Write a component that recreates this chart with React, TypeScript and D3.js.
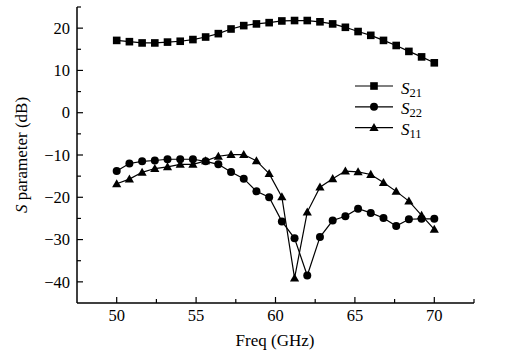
import React from "react";
import * as d3 from "d3";

const freqs: number[] = Array.from({ length: 26 }, (_, i) => +(50 + i * 0.8).toFixed(1));
const s21: number[] = [17.1, 16.8, 16.5, 16.5, 16.7, 16.9, 17.3, 17.9, 18.7, 19.8, 20.6, 21.0, 21.3, 21.7, 21.8, 21.8, 21.5, 21.0, 20.2, 19.2, 18.3, 17.1, 15.9, 14.5, 13.2, 11.8];
const s22: number[] = [-13.8, -12.0, -11.5, -11.3, -11.0, -11.0, -11.0, -11.5, -12.2, -14.0, -15.6, -18.6, -20.0, -25.7, -29.7, -38.5, -29.4, -25.5, -24.5, -22.7, -23.7, -24.9, -26.8, -25.2, -25.1, -25.1];
const s11: number[] = [-16.8, -15.7, -14.1, -13.2, -12.8, -12.2, -12.2, -11.4, -10.3, -9.9, -9.9, -11.4, -14.4, -19.9, -39.1, -23.5, -17.6, -15.6, -13.8, -14.0, -14.6, -16.5, -18.6, -20.9, -24.3, -27.6];
const xMajor: number[] = [50, 55, 60, 65, 70];
const xMinor: number[] = [52.5, 57.5, 62.5, 67.5, 72.5];
const yMajor: number[] = [-40, -30, -20, -10, 0, 10, 20];
const yMinor: number[] = [-35, -25, -15, -5, 5, 15, 25];
const legend = [
  { name: "21", key: "square" },
  { name: "22", key: "circle" },
  { name: "11", key: "triangle" },
];

const FONT = "'Liberation Serif', 'DejaVu Serif', serif";

function Marker({ type, x, y }: { type: string; x: number; y: number }) {
  if (type === "square") return <rect x={x - 3.8} y={y - 3.8} width={7.6} height={7.6} fill="#000" />;
  if (type === "circle") return <circle cx={x} cy={y} r={4} fill="#000" />;
  const s = 4.6;
  return <path d={`M${x},${y - s}L${x + s},${y + s * 0.75}L${x - s},${y + s * 0.75}Z`} fill="#000" />;
}

export default function App() {
  const x = d3.scaleLinear().domain([47.5, 72.5]).range([77, 474]);
  const y = d3.scaleLinear().domain([-45, 25]).range([303, 7]);
  const line = d3.line<number>().x((_, i) => x(freqs[i])).y((d) => y(d));
  const series = [
    { data: s21, type: "square" },
    { data: s22, type: "circle" },
    { data: s11, type: "triangle" },
  ];
  const fmt = (v: number) => (v < 0 ? "\u2212" + Math.abs(v) : String(v));
  return (
    <svg width={519} height={358} style={{ position: "absolute", left: 0, top: 0, background: "#fff" }} fontFamily={FONT}>
      {/* axes */}
      <line x1={x(47.5)} x2={x(72.5)} y1={y(-45)} y2={y(-45)} stroke="#000" strokeWidth={1.5} />
      <line x1={x(47.5)} x2={x(47.5)} y1={y(-45)} y2={y(25)} stroke="#000" strokeWidth={1.5} />
      {xMajor.map((v) => (
        <g key={"xm" + v}>
          <line x1={x(v)} x2={x(v)} y1={y(-45)} y2={y(-45) - 6} stroke="#000" strokeWidth={1.2} />
          <text x={x(v)} y={320.5} fontSize={16.5} textAnchor="middle">{v}</text>
        </g>
      ))}
      {xMinor.map((v) => (
        <line key={"xn" + v} x1={x(v)} x2={x(v)} y1={y(-45)} y2={y(-45) - 4} stroke="#000" strokeWidth={1.2} />
      ))}
      {yMajor.map((v) => (
        <g key={"ym" + v}>
          <line x1={x(47.5)} x2={x(47.5) + 6} y1={y(v)} y2={y(v)} stroke="#000" strokeWidth={1.2} />
          <text x={70} y={y(v)} dy="0.35em" fontSize={16.5} textAnchor="end">{fmt(v)}</text>
        </g>
      ))}
      {yMinor.map((v) => (
        <line key={"yn" + v} x1={x(47.5)} x2={x(47.5) + 4} y1={y(v)} y2={y(v)} stroke="#000" strokeWidth={1.2} />
      ))}
      {/* series */}
      {series.map((s, si) => (
        <g key={"s" + si}>
          <path d={line(s.data) || ""} fill="none" stroke="#000" strokeWidth={1.2} />
          {s.data.map((d, i) => (
            <Marker key={i} type={s.type} x={x(freqs[i])} y={y(d)} />
          ))}
        </g>
      ))}
      {/* legend */}
      {legend.map((l, i) => {
        const cy = 86 + i * 20.8;
        return (
          <g key={"lg" + i}>
            <line x1={355} x2={393} y1={cy} y2={cy} stroke="#000" strokeWidth={1.2} />
            <Marker type={l.key} x={374} y={cy} />
            <text x={401} y={cy + 7.5} fontSize={17}>
              <tspan fontStyle="italic">S</tspan>
              <tspan fontSize={12.5} dy={3}>{l.name}</tspan>
            </text>
          </g>
        );
      })}
      {/* labels */}
      <text x={275} y={345.5} fontSize={17} textAnchor="middle">Freq (GHz)</text>
      <text transform={`translate(27,${y(-10)}) rotate(-90)`} fontSize={17} textAnchor="middle">
        <tspan fontStyle="italic">S</tspan> parameter (dB)
      </text>
    </svg>
  );
}
